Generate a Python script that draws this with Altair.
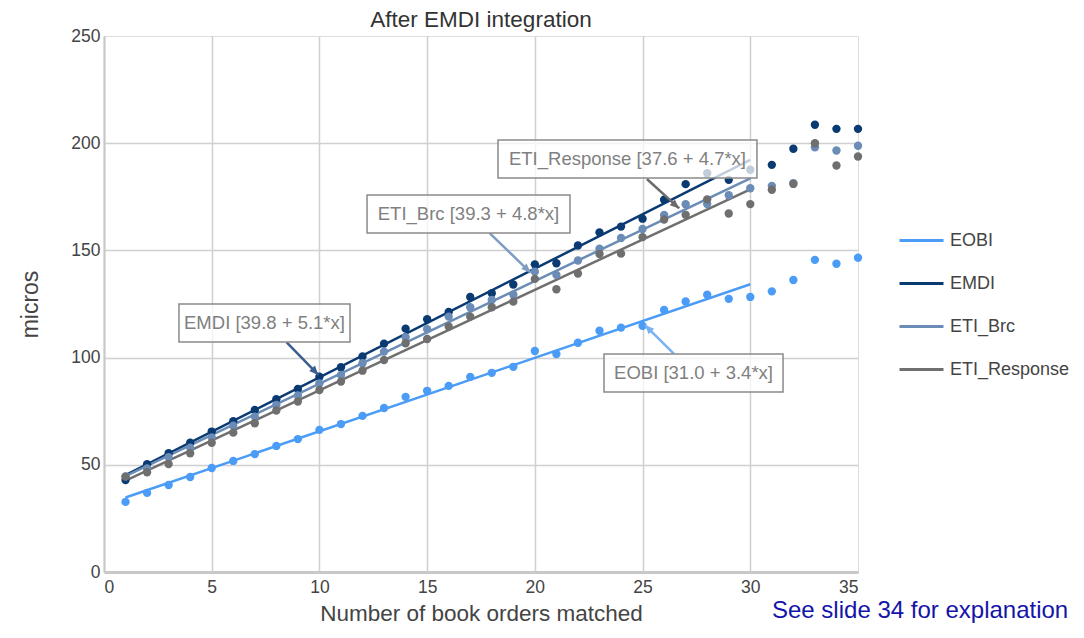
import altair as alt
import pandas as pd

# ---------------- data ----------------
x_vals = list(range(1, 36))
series_names = ["EOBI", "EMDI", "ETI_Brc", "ETI_Response"]
series_colors = ["#4a9cf6", "#0a3a72", "#6a8cb6", "#6f6f6f"]

eobi = [32.7, 36.9, 40.6, 44.3, 48.5, 51.8, 55.0, 58.8, 62.0, 66.3,
        69.0, 72.8, 76.5, 81.7, 84.5, 86.8, 91.0, 92.9, 95.7, 103.1,
        101.7, 106.9, 112.5, 114.0, 114.8, 122.2, 126.2, 129.3, 127.4, 128.3,
        130.9, 136.2, 145.6, 143.8, 146.6]
emdi = [42.9, 50.3, 55.4, 60.3, 65.5, 70.3, 75.6, 80.6, 85.4, 91.1,
        95.5, 100.5, 106.5, 113.5, 117.9, 121.3, 128.3, 130.0, 134.1, 143.5,
        144.0, 152.3, 158.4, 161.1, 164.8, 173.6, 180.9, 186.0, 182.9, 187.6,
        189.9, 197.4, 208.6, 206.7, 206.7]
eti_brc = [44.6, 48.3, 53.5, 58.0, 62.8, 68.2, 72.5, 77.9, 82.3, 88.0,
           91.9, 97.4, 102.8, 109.5, 113.3, 119.1, 123.5, 126.9, 129.4, 140.1,
           138.6, 145.3, 150.8, 155.8, 160.0, 166.5, 171.5, 171.6, 175.7, 179.0,
           180.1, 181.4, 198.1, 196.6, 198.8]
eti_response = [44.5, 46.5, 50.4, 55.4, 60.3, 65.0, 69.4, 75.3, 79.5, 84.9,
                88.8, 93.9, 98.9, 106.7, 108.7, 114.5, 119.1, 123.5, 126.1, 136.7,
                131.9, 139.2, 148.3, 148.5, 156.2, 164.4, 166.6, 173.8, 167.2, 171.6,
                178.3, 181.0, 200.0, 189.6, 193.8]

fit_max_x = 30

chart_title = "After EMDI integration"
footnote = "See slide 34 for explanation"

ann_labels = ["ETI_Response [37.6 + 4.7*x]", "ETI_Brc [39.3 + 4.8*x]",
              "EMDI [39.8 + 5.1*x]", "EOBI [31.0 + 3.4*x]"]
ann_series = ["ETI_Response", "ETI_Brc", "EMDI", "EOBI"]

# annotation placement (data units)
ann_x1 = [18.29, 12.21, 3.48, 23.21]
ann_x2 = [30.31, 21.63, 11.42, 31.52]
ann_y1 = [183.8, 158.1, 107.3, 84.0]
ann_y2 = [201.5, 175.8, 125.0, 101.7]
arr_x1 = [25.2, 17.9, 8.48, 26.46]
arr_y1 = [183.3, 158.1, 107.1, 101.7]
arr_x2 = [26.7, 19.8, 9.95, 25.11]
arr_y2 = [169.6, 139.6, 91.9, 115.2]
arr_angle = [131, 134, 137, 315]
arr_colors = ["#6b6b6b", "#7f9dc2", "#3a5f8e", "#78b2f2"]

# ---------------- frames ----------------
rows = []
for name, vals in zip(series_names, [eobi, emdi, eti_brc, eti_response]):
    for xv, v in zip(x_vals, vals):
        rows.append({"x": xv, "micros": v, "series": name})
df = pd.DataFrame(rows)

ann = pd.DataFrame({
    "label": ann_labels, "series": ann_series,
    "x1": ann_x1, "x2": ann_x2, "y1": ann_y1, "y2": ann_y2,
    "xc": [(a + b) / 2 for a, b in zip(ann_x1, ann_x2)],
    "yc": [(a + b) / 2 for a, b in zip(ann_y1, ann_y2)],
    "ax1": arr_x1, "ay1": arr_y1, "ax2": arr_x2, "ay2": arr_y2,
    "angle": arr_angle, "acolor": arr_colors,
})

FONT = "Liberation Sans"
x_scale = alt.Scale(domain=[0, 35], nice=False, zero=False)
y_scale = alt.Scale(domain=[0, 250], nice=False)

x_axis = alt.Axis(
    values=[0, 5, 10, 15, 20, 25, 30, 35], ticks=False, labelPadding=6,
    labelFontSize=17.5, labelColor="#444", labelFont=FONT,
    title="Number of book orders matched", titleFont=FONT, titleFontSize=22.5,
    titleFontWeight="normal", titleColor="#444", titleX=377, titleY=41,
    titleBaseline="middle",
    gridColor="#d0d0d0", gridWidth=1.5,
    gridOpacity={"condition": {"test": "datum.value >= 35", "value": 0}, "value": 1},
    domainColor="#c8c8c8", domainWidth=3,
)
y_axis = alt.Axis(
    values=[0, 50, 100, 150, 200, 250], ticks=False, labelPadding=4,
    labelFontSize=17.5, labelColor="#444", labelFont=FONT,
    title="micros", titleFont=FONT, titleFontSize=23, titleFontWeight="normal",
    titleColor="#444", titleX=-74, titleY=268, titleBaseline="middle", titleAngle=270,
    gridColor="#d0d0d0", gridWidth=1.5,
    gridOpacity={"condition": {"test": "datum.value >= 250", "value": 0}, "value": 1},
    domainColor="#c8c8c8", domainWidth=2,
)

color_scale = alt.Scale(domain=series_names, range=series_colors)

base = alt.Chart(df)

lines = base.transform_filter(
    alt.datum.x <= fit_max_x
).transform_regression(
    "x", "micros", groupby=["series"], extent=[1, fit_max_x]
).mark_line(strokeWidth=2.5).encode(
    x=alt.X("x:Q", scale=x_scale, axis=x_axis),
    y=alt.Y("micros:Q", scale=y_scale, axis=y_axis),
    color=alt.Color(
        "series:N", scale=color_scale,
        legend=alt.Legend(
            title=None, orient="none", legendX=794, legendY=181,
            symbolType="stroke", symbolSize=1936, symbolStrokeWidth=3,
            labelFontSize=18, labelColor="#444", labelFont=FONT, labelOffset=5,
            rowPadding=10, padding=0,
        ),
    ),
    detail="series:N",
)

points = base.mark_circle(size=70, opacity=1).encode(
    x=alt.X("x:Q", scale=x_scale),
    y=alt.Y("micros:Q", scale=y_scale),
    color=alt.Color("series:N", scale=color_scale, legend=None),
)

ann_base = alt.Chart(ann)
arrows = ann_base.mark_rule(strokeWidth=2.5).encode(
    x=alt.X("ax1:Q", scale=x_scale), y=alt.Y("ay1:Q", scale=y_scale),
    x2="ax2:Q", y2="ay2:Q",
    color=alt.Color("acolor:N", scale=None),
)
heads = ann_base.mark_point(
    shape="M0,0L-0.55,1.3L0.55,1.3Z", filled=True, size=200, opacity=1
).encode(
    x=alt.X("ax2:Q", scale=x_scale), y=alt.Y("ay2:Q", scale=y_scale),
    angle=alt.Angle("angle:Q", scale=None),
    color=alt.Color("acolor:N", scale=None),
)
boxes = ann_base.mark_rect(
    fill="white", fillOpacity=0.75, stroke="#8a8a8a", strokeWidth=1.5
).encode(
    x=alt.X("x1:Q", scale=x_scale), x2="x2:Q",
    y=alt.Y("y1:Q", scale=y_scale), y2="y2:Q",
)
labels = ann_base.mark_text(
    fontSize=18.5, font=FONT, color="#808080", align="center", baseline="middle"
).encode(
    x=alt.X("xc:Q", scale=x_scale), y=alt.Y("yc:Q", scale=y_scale),
    text="label:N",
)

title_mark = alt.Chart(pd.DataFrame({"t": [chart_title]})).mark_text(
    fontSize=22.5, font=FONT, color="#333", align="center", baseline="middle"
).encode(x=alt.value(377), y=alt.value(-16), text="t:N")

note = alt.Chart(pd.DataFrame({"t": [footnote]})).mark_text(
    fontSize=24, font=FONT, color="#1414a8", align="left", baseline="middle"
).encode(x=alt.value(668), y=alt.value(575), text="t:N")

chart = alt.layer(lines, points, arrows, heads, boxes, labels, title_mark, note).properties(
    width=754, height=536,
    autosize=alt.AutoSizeParams(type="none"),
    padding={"left": 96, "top": 28, "right": 218, "bottom": 54},
).configure_view(stroke=None).configure(background="white")

chart.save("out.html", embed_options={"renderer": "svg", "actions": False})
